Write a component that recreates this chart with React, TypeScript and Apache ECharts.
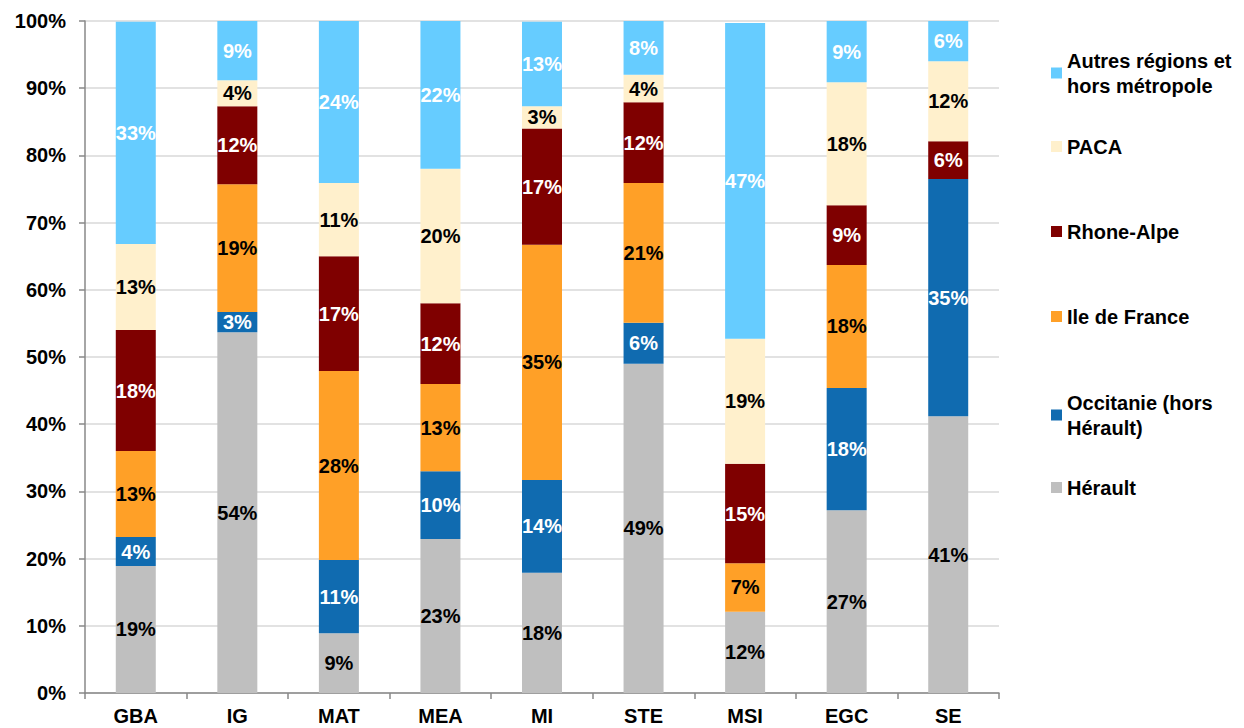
import React, { useEffect, useRef } from "react";
import * as echarts from "echarts";

const categories = ["GBA", "IG", "MAT", "MEA", "MI", "STE", "MSI", "EGC", "SE"];

const herault = [18.9, 53.7, 8.9, 22.9, 17.9, 49.0, 12.1, 27.2, 41.2];
const occitanie = [4.3, 3.0, 10.9, 10.1, 13.8, 6.1, 0, 18.2, 35.3];
const ileDeFrance = [12.8, 19.0, 28.1, 13.0, 35.0, 20.8, 7.2, 18.3, 0];
const rhoneAlpe = [18.0, 11.6, 17.1, 12.0, 17.3, 12.0, 14.8, 8.9, 5.6];
const paca = [12.8, 3.9, 10.9, 20.0, 3.3, 4.1, 18.6, 18.3, 11.9];
const autres = [33.1, 8.8, 24.1, 22.0, 12.6, 8.0, 47.0, 9.1, 6.0];

const yTicks = { min: 0, max: 100, interval: 10 };

const seriesDefs = [
  { name: "Hérault", data: herault, color: "#BFBFBF", label: "#000000", legend: "Hérault" },
  { name: "Occitanie (hors Hérault)", data: occitanie, color: "#106BB0", label: "#FFFFFF", legend: "Occitanie (hors\nHérault)" },
  { name: "Ile de France", data: ileDeFrance, color: "#FFA027", label: "#000000", legend: "Ile de France" },
  { name: "Rhone-Alpe", data: rhoneAlpe, color: "#7F0000", label: "#FFFFFF", legend: "Rhone-Alpe" },
  { name: "PACA", data: paca, color: "#FFF0CC", label: "#000000", legend: "PACA" },
  { name: "Autres régions et hors métropole", data: autres, color: "#66CCFF", label: "#FFFFFF", legend: "Autres régions et\nhors métropole" },
];

const legendTops: Record<string, number> = {
  "Autres régions et hors métropole": 48,
  PACA: 134,
  "Rhone-Alpe": 219,
  "Ile de France": 304,
  "Occitanie (hors Hérault)": 390,
  "Hérault": 475,
};

const FONT = "'Liberation Sans', Arial, sans-serif";

export default function App() {
  const ref = useRef<HTMLDivElement>(null);
  useEffect(() => {
    if (!ref.current) return;
    const chart = echarts.init(ref.current, undefined, { renderer: "svg" });
    const legends = seriesDefs.map((s) => ({
      data: [s.name],
      orient: "vertical",
      left: 1051,
      top: legendTops[s.name],
      padding: 0,
      itemWidth: 11,
      itemHeight: 11,
      itemGap: 0,
      icon: "rect",
      formatter: () => s.legend,
      textStyle: {
        fontFamily: FONT,
        fontWeight: "bold",
        fontSize: 20,
        color: "#000",
        lineHeight: 25,
        padding: [0, 0, 0, 0],
      },
      selectedMode: false,
    }));
    chart.setOption({
      animation: false,
      backgroundColor: "#ffffff",
      textStyle: { fontFamily: FONT },
      grid: { left: 85, right: 245, top: 21, bottom: 35, containLabel: false },
      legend: legends,
      xAxis: {
        type: "category",
        data: categories,
        axisLine: { show: true, lineStyle: { color: "#888888", width: 1.5 } },
        axisTick: { show: true, length: 6, lineStyle: { color: "#888888", width: 1.5 } },
        axisLabel: {
          color: "#000",
          fontFamily: FONT,
          fontWeight: "bold",
          fontSize: 20,
          margin: 13,
        },
      },
      yAxis: {
        type: "value",
        min: yTicks.min,
        max: yTicks.max,
        interval: yTicks.interval,
        axisLine: { show: true, lineStyle: { color: "#888888", width: 1.5 } },
        axisTick: { show: true, inside: false, length: 6, lineStyle: { color: "#888888", width: 1.5 } },
        splitLine: { show: true, lineStyle: { color: "#D9D9D9", width: 1.5 } },
        axisLabel: {
          color: "#000",
          fontFamily: FONT,
          fontWeight: "bold",
          fontSize: 20,
          margin: 19,
          formatter: "{value}%",
        },
      },
      series: seriesDefs.map((s) => ({
        name: s.name,
        type: "bar",
        stack: "total",
        barWidth: 40,
        data: s.data,
        itemStyle: { color: s.color },
        label: {
          show: true,
          position: "inside",
          color: s.label,
          fontFamily: FONT,
          fontWeight: "bold",
          fontSize: 20,
          formatter: (p: any) => (p.value > 0 ? Math.round(p.value) + "%" : ""),
        },
      })),
    });
    return () => chart.dispose();
  }, []);
  return (
    <div
      ref={ref}
      style={{ position: "fixed", left: 0, top: 0, width: 1244, height: 728, background: "#fff" }}
    />
  );
}
